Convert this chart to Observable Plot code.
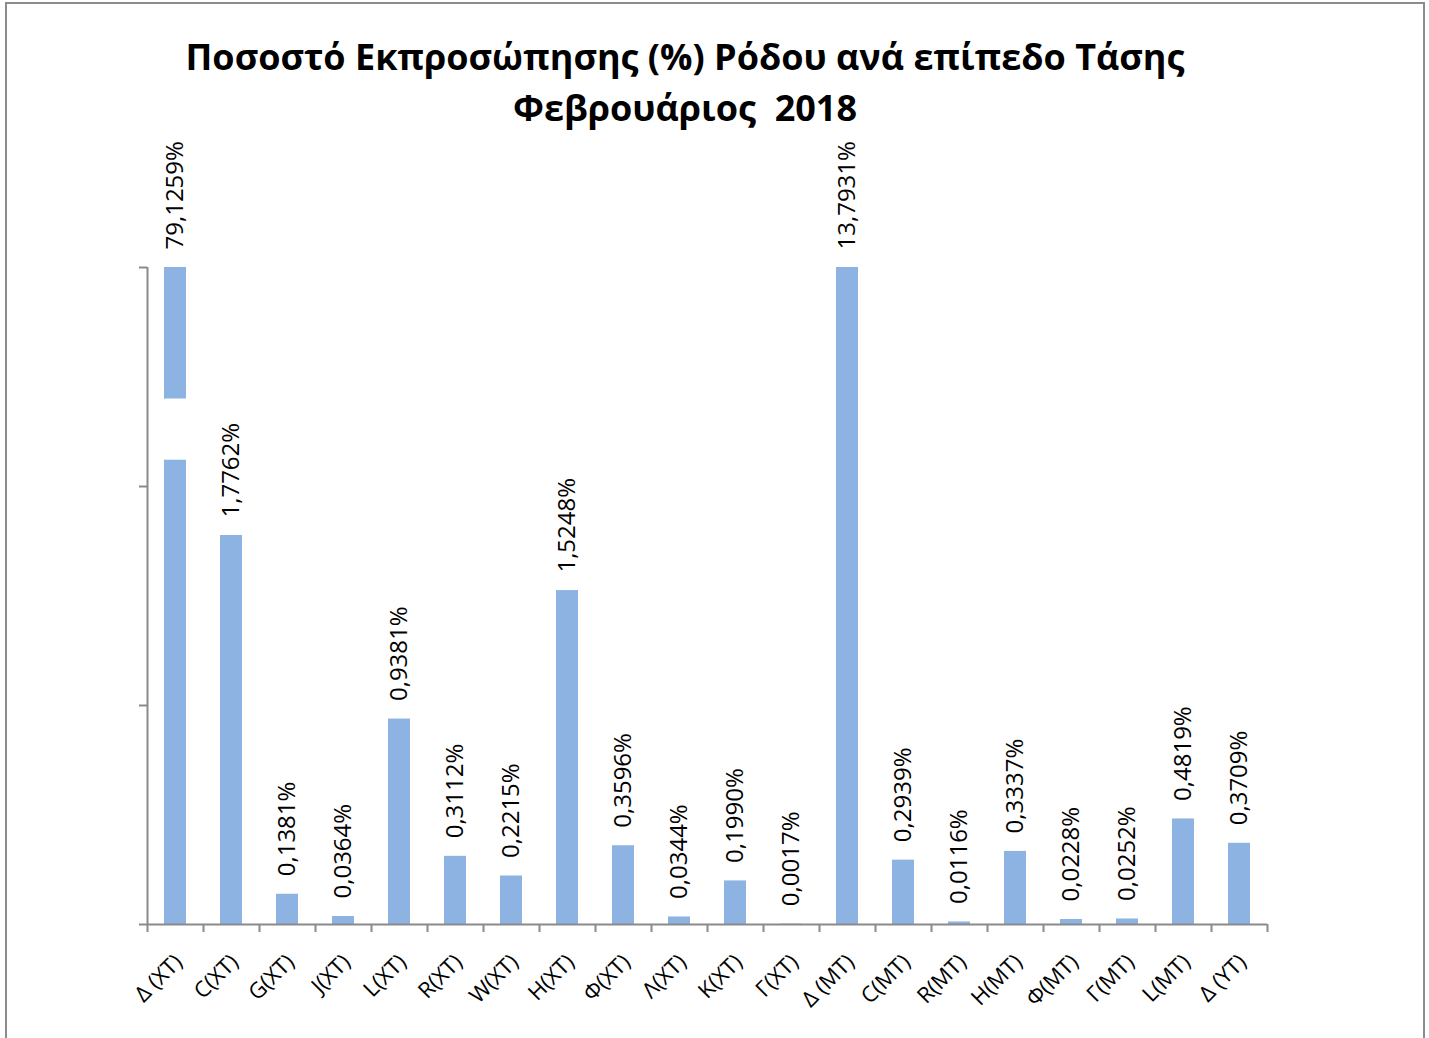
<!DOCTYPE html>
<html><head><meta charset="utf-8">
<script src="https://cdn.jsdelivr.net/npm/d3@7"></script>
<script src="https://cdn.jsdelivr.net/npm/@observablehq/plot@0.6"></script>
<style>
body{margin:0;background:#fff;}
#wrap{position:relative;width:1429px;height:1038px;overflow:hidden;background:#fff;}
#frame{position:absolute;left:5px;top:2px;width:1416px;height:1100px;border:2px solid #8c8c8c;}
#title{position:absolute;left:0;width:1370px;top:31px;text-align:center;font-family:"Open Sans";font-weight:bold;font-size:36px;line-height:51px;color:#000;}
#chart{position:absolute;left:0;top:0;}
</style></head>
<body>
<div id="wrap"><div id="frame"></div><div id="chart"></div>
<div id="title">Ποσοστό Εκπροσώπησης (%) Ρόδου ανά επίπεδο Τάσης<br>Φεβρουάριος&nbsp; 2018</div></div>
<script>
const categories = ["Δ (XT)","C(XT)","G(XT)","J(XT)","L(XT)","R(XT)","W(XT)","H(XT)","Φ(XT)","Λ(XT)","K(XT)","Γ(XT)","Δ (MT)","C(MT)","R(MT)","H(MT)","Φ(MT)","Γ(MT)","L(MT)","Δ (YT)"];
const values = [79.1259,1.7762,0.1381,0.0364,0.9381,0.3112,0.2215,1.5248,0.3596,0.0344,0.1990,0.0017,13.7931,0.2939,0.0116,0.3337,0.0228,0.0252,0.4819,0.3709];
const yTicks = [0,1,2,3];
const axisBreak = [{cat: "Δ (XT)", from: 2.12, to: 2.40}];

const data = categories.map((c, i) => ({cat: c, value: values[i], label: values[i].toFixed(4).replace(".", ",") + "%"}));
const grey = "#8a8a8a";
const half = 28;

const chart = Plot.plot({
  width: 1429,
  height: 1038,
  marginLeft: 147,
  marginRight: 162,
  marginTop: 267,
  marginBottom: 114,
  style: {fontFamily: "Open Sans", background: "transparent"},
  x: {type: "band", domain: categories, paddingInner: 0.6, paddingOuter: 0.3, label: null, axis: null},
  y: {domain: [0, 3], clamp: true, label: null},
  marks: [
    Plot.barY(data, {x: "cat", y: "value", fill: "#8DB3E2"}),
    Plot.barY(axisBreak, {x: "cat", y1: "from", y2: "to", fill: "white", insetLeft: -8, insetRight: -10, rx: 10}),
    Plot.ruleY([0], {stroke: grey, strokeWidth: 2}),
    Plot.ruleX([categories[0]], {x: d => d, y1: 0, y2: 3, dx: -half, stroke: grey, strokeWidth: 2}),
    Plot.axisY({ticks: yTicks, tickSize: 8, tickFormat: () => "", stroke: grey, strokeWidth: 2}),
    Plot.ruleX(categories, {x: d => d, y1: 0, y2: 0, dx: -half, insetBottom: -8, stroke: grey, strokeWidth: 2}),
    Plot.ruleX([categories[categories.length - 1]], {x: d => d, y1: 0, y2: 0, dx: half, insetBottom: -8, stroke: grey, strokeWidth: 2}),
    Plot.text(categories, {x: d => d, frameAnchor: "bottom", text: d => d, rotate: -45, textAnchor: "end", lineAnchor: "middle", dx: 3, dy: 34, fontSize: 22, fill: "#000"}),
    Plot.text(data, {x: "cat", y: "value", text: "label", rotate: -90, textAnchor: "start", dy: -18, fontSize: 24, fill: "#000"})
  ]
});
document.getElementById("chart").appendChild(chart);
</script>
</body></html>
